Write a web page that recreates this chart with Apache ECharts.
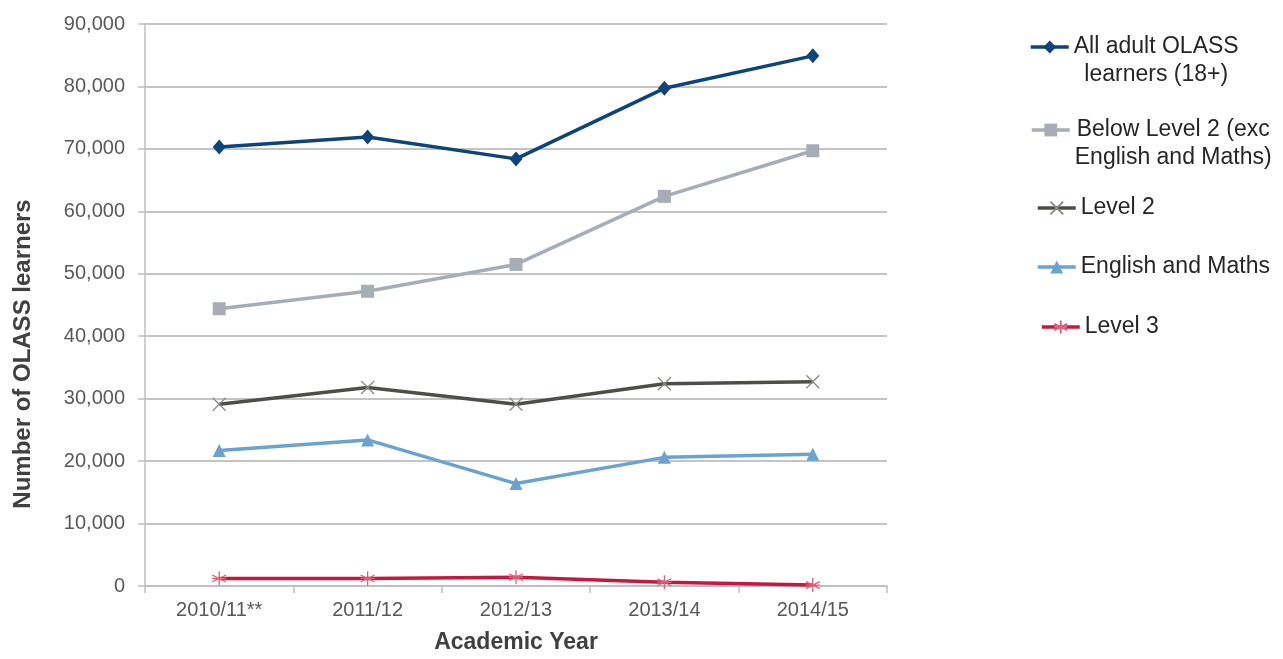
<!DOCTYPE html>
<html>
<head>
<meta charset="utf-8">
<script src="https://cdn.jsdelivr.net/npm/echarts@6/dist/echarts.min.js"></script>
<style>
html,body{margin:0;padding:0;background:#fff;overflow:hidden;}
#chart{width:1283px;height:659px;}
</style>
</head>
<body>
<div id="chart"></div>
<script>
var categories = ['2010/11**', '2011/12', '2012/13', '2013/14', '2014/15'];
var allAdult = [70300, 71900, 68400, 79700, 84900];
var belowL2 = [44400, 47200, 51500, 62400, 69700];
var level2 = [29100, 31800, 29100, 32400, 32700];
var engMaths = [21700, 23400, 16400, 20600, 21100];
var level3 = [1200, 1200, 1400, 600, 150];
var seriesNames = ['All adult OLASS learners (18+)', 'Below Level 2 (exc English and Maths)', 'Level 2', 'English and Maths', 'Level 3'];
var legendLines = [['All adult OLASS', 'learners (18+)'], ['Below Level 2 (exc', 'English and Maths)'], ['Level 2'], ['English and Maths'], ['Level 3']];
var yTicks = [0, 10000, 20000, 30000, 40000, 50000, 60000, 70000, 80000, 90000];

var colors = ['#0E4479', '#A6ADB6', '#4C4F48', '#6BA3D0', '#C8173F'];
var xPath = 'path://M0,0L10,10M10,0L0,10';
var starPath = 'path://M5,0L5,10M0,2.5L10,7.5M10,2.5L0,7.5M0,5L10,5';
var symbols = ['diamond', 'rect', xPath, 'triangle', starPath];
var symbolSizes = [[13, 15], 13, 13, 13, 14];
var data = [allAdult, belowL2, level2, engMaths, level3];

var font = 'Liberation Sans, Arial, sans-serif';
var LH = 28;

var series = seriesNames.map(function (n, i) {
  var stroked = (i === 2 || i === 4);
  return {
    name: n,
    type: 'line',
    data: data[i],
    symbol: symbols[i],
    symbolSize: symbolSizes[i],
    showAllSymbol: true,
    lineStyle: { color: colors[i], width: 3.5 },
    itemStyle: stroked ? { color: colors[i], borderColor: i === 2 ? '#8A8C86' : '#E0607A', borderWidth: 1.3 } : { color: colors[i] },
    emphasis: { disabled: true },
    z: 10 - i
  };
});

var legendPos = [
  { left: 1029, iconY: 47 },
  { left: 1030, iconY: 130 },
  { left: 1036, iconY: 208 },
  { left: 1036, iconY: 267 },
  { left: 1040, iconY: 327 }
];

var legends = seriesNames.map(function (n, i) {
  var lines = legendLines[i];
  var multi = lines.length > 1;
  return {
    show: true,
    orient: 'vertical',
    left: legendPos[i].left,
    top: multi ? legendPos[i].iconY - LH * 1.5 : legendPos[i].iconY - LH / 2,
    padding: 0,
    data: [n],
    itemWidth: 38,
    itemHeight: 16,
    selectedMode: false,
    lineStyle: { width: 3.5 },
    formatter: function () {
      if (!multi) return lines[0];
      return '{c|' + lines[0] + '}\n{c|' + lines[1] + '}';
    },
    textStyle: {
      fontFamily: font,
      fontSize: 23,
      color: '#262626',
      lineHeight: LH,
      padding: multi ? [LH, 0, 0, 0] : 0,
      rich: { c: { align: 'center', fontFamily: font, fontSize: 23, color: '#262626', lineHeight: LH } }
    }
  };
});

var chart = echarts.init(document.getElementById('chart'));
chart.setOption({
  animation: false,
  backgroundColor: '#fff',
  grid: { left: 145, right: 396, top: 24, bottom: 66, containLabel: false },
  legend: legends,
  xAxis: {
    type: 'category',
    data: categories,
    boundaryGap: true,
    name: 'Academic Year',
    nameLocation: 'middle',
    nameGap: 45,
    nameTextStyle: { fontFamily: font, fontSize: 23, fontWeight: 'bold', color: '#404040' },
    axisLine: { show: true, lineStyle: { color: '#BFBFBF', width: 1.5 } },
    axisTick: { show: true, length: 7, lineStyle: { color: '#BFBFBF', width: 1.5 } },
    axisLabel: { fontFamily: font, fontSize: 20, color: '#595959', margin: 14 },
    splitLine: { show: false }
  },
  yAxis: {
    type: 'value',
    min: yTicks[0],
    max: yTicks[yTicks.length - 1],
    interval: yTicks[1] - yTicks[0],
    name: 'Number of OLASS learners',
    nameLocation: 'middle',
    nameGap: 110,
    nameRotate: 90,
    nameTextStyle: { fontFamily: font, fontSize: 24, fontWeight: 'bold', color: '#404040', padding: [0, 98, 0, 0] },
    axisLine: { show: true, lineStyle: { color: '#BFBFBF', width: 1.5 } },
    axisTick: { show: true, length: 7, inside: false, lineStyle: { color: '#BFBFBF', width: 1.5 } },
    axisLabel: {
      fontFamily: font, fontSize: 20, color: '#595959', margin: 20,
      formatter: function (v) { return v.toLocaleString('en-US'); }
    },
    splitLine: { show: true, lineStyle: { color: '#C4C4C4', width: 1.8 } }
  },
  series: series
});
</script>
</body>
</html>
